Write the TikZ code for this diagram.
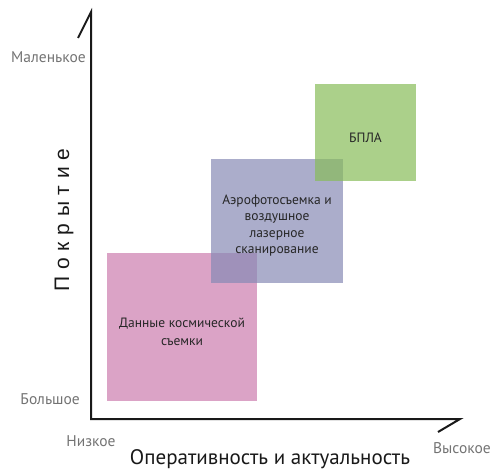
\documentclass[tikz,border=0pt]{standalone}
\usepackage{fontspec}
\setmainfont{PT Sans}
\newfontfamily\coverfont[LetterSpace=32]{Liberation Sans}
\usetikzlibrary{positioning}
\definecolor{spacepink}{RGB}{204,124,174}
\definecolor{aeroblue}{RGB}{135,138,181}
\definecolor{uavgreen}{RGB}{136,188,89}
\tikzstyle{areabox}=[rectangle, fill opacity=0.7, text opacity=1, inner sep=0pt, align=center,
text=black!85, font=\fontsize{13.5}{16.5}\selectfont]
\tikzstyle{axis}=[line width=2pt, black!90, line join=miter]
\tikzstyle{tag}=[inner sep=0pt, text=black!55, font=\fontsize{15.5}{17}\selectfont]
\tikzstyle{axtitle}=[inner sep=0pt, text=black!90]
% lowered text block inside an area box
\newcommand\areatext[3]{\raisebox{#1}[0pt][0pt]{\parbox{#2}{\centering #3}}}

\begin{document}
\begin{tikzpicture}[x=1pt, y=-1pt]
    \useasboundingbox (0,0) rectangle (495,471);

%% axes
    \coordinate (o) at (91,419);
    \coordinate (ytop) at (91,12);
    \coordinate (ytick) at (78,38);
    \coordinate (xend) at (460,419);
    \coordinate (xtick) at (438,432);
    \draw[axis] (ytick) -- (ytop) -- (o) -- (xend) -- (xtick);

%% areas, drawn pink -> blue -> green
    \node (space) [areabox, fill=spacepink, minimum width=150pt, minimum height=148pt] at (182,327)
        {\areatext{-8pt}{146pt}{\fontsize{13.5}{18}\selectfont Данные космической\\съемки}};
    \node (aero) [areabox, fill=aeroblue, minimum width=132pt, minimum height=124pt] at (277,221)
        {\areatext{-8pt}{130pt}{Аэрофотосъемка и\\воздушное\\лазерное\\сканирование}};
    \node (uav) [areabox, fill=uavgreen, minimum width=101pt, minimum height=97pt] at (365.5,132.5)
        {\areatext{-8.5pt}{95pt}{БПЛА}};

%% labels
    \node (small) [tag, anchor=east] at (86,57) {Маленькое};
    \node (large) [tag, anchor=east] at (80,399) {Большое};
    \node (low) [tag, below=16pt of o] {Низкое};
    \node (high) [tag, below=23pt of xend, xshift=2pt] {Высокое};
    \node (speed) [axtitle, font=\fontsize{21}{24}\selectfont] at (270,459) {Оперативность и актуальность};
    \node (cover) [axtitle, rotate=90, font=\coverfont\fontsize{21}{24}\selectfont] at (64,220) {Покрытие};

\end{tikzpicture}
\end{document}
